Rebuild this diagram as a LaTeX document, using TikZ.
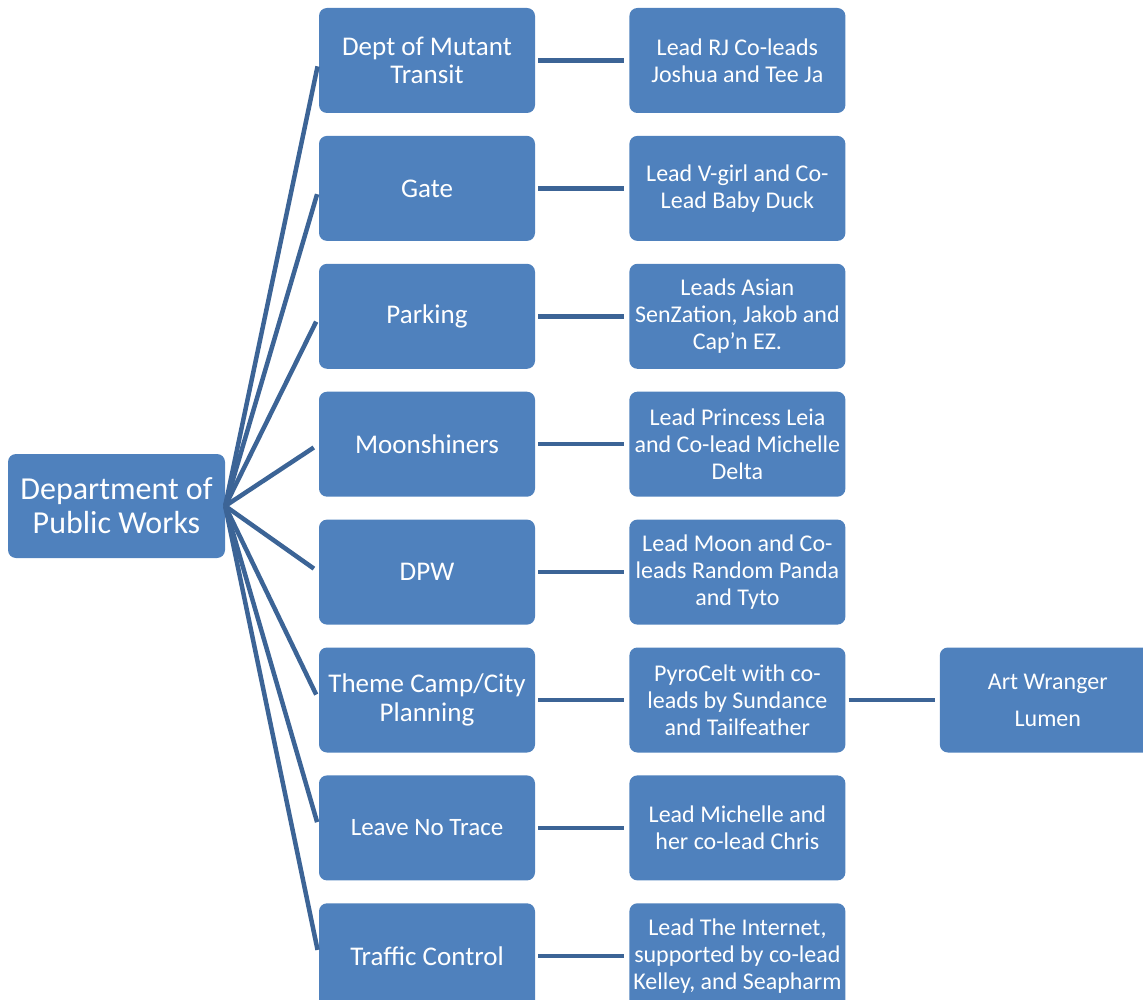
\documentclass[tikz,border=0pt]{standalone}
\usepackage{fontspec}
\setmainfont{Carlito}
\usetikzlibrary{positioning}
\definecolor{boxblue}{RGB}{79,129,189}
\definecolor{linkblue}{RGB}{60,100,150}

\begin{document}
\begin{tikzpicture}[x=1pt,y=-1pt,node distance=22.5pt and 94pt]

			\tikzstyle{every node}=[font=\fontsize{24}{27}\selectfont,text=white]

			\tikzstyle{unit}=[rectangle,rounded corners=8pt,fill=boxblue,minimum width=216pt,minimum height=105pt,inner sep=1pt,align=center]
			\tikzstyle{big}=[font=\fontsize{27}{28.5}\selectfont]
			\tikzstyle{link}=[draw=linkblue,line width=4.5pt]

			\useasboundingbox (0,0) rectangle (1143,1000);
			\clip (0,0) rectangle (1143,1000);

			\node[unit,font=\fontsize{32}{34}\selectfont,minimum width=217pt,minimum height=104pt] (DPW) at (116.5,506) {Department of\\Public Works};

			% teams
			\node[unit,big] (T1) at (427,60.5) {Dept of Mutant\\Transit};
			\node[unit,big] (T2) [below=of T1] {Gate};
			\node[unit,big] (T3) [below=of T2] {Parking};
			\node[unit,big] (T4) [below=of T3] {Moonshiners};
			\node[unit,big] (T5) [below=of T4] {DPW};
			\node[unit,big] (T6) [below=of T5] {Theme Camp/City\\Planning};
			\node[unit,font=\fontsize{25}{28}\selectfont] (T7) [below=of T6] {Leave No Trace};
			\node[unit,big] (T8) [below=of T7] {Traffic Control};

			% leads
			\node[unit] (L1) [right=of T1] {Lead RJ Co-leads\\Joshua and Tee Ja};
			\node[unit] (L2) [right=of T2] {Lead V-girl and Co-\\Lead Baby Duck};
			\node[unit] (L3) [right=of T3] {Leads Asian\\SenZation, Jakob and\\Cap’n EZ.};
			\node[unit] (L4) [right=of T4] {Lead Princess Leia\\and Co-lead Michelle\\Delta};
			\node[unit] (L5) [right=of T5] {Lead Moon and Co-\\leads Random Panda\\and Tyto};
			\node[unit] (L6) [right=of T6] {PyroCelt with co-\\leads by Sundance\\and Tailfeather};
			\node[unit] (L7) [right=of T7] {Lead Michelle and\\her co-lead Chris};
			\node[unit] (L8) [right=of T8] {Lead The Internet,\\supported by co-lead\\Kelley, and Seapharm};

			\node[unit] (AW) [right=of L6] {Art Wranger\\[10pt]Lumen};

			\foreach \i in {1,...,8}{
				\draw[link,shorten >=6pt] (DPW.east) -- (T\i.west);
				\draw[link,shorten <=3pt,shorten >=5pt] (T\i.east) -- (L\i.west);
			}
			\draw[link,shorten <=3pt,shorten >=5pt] (L6.east) -- (AW.west);

		\end{tikzpicture}
\end{document}
